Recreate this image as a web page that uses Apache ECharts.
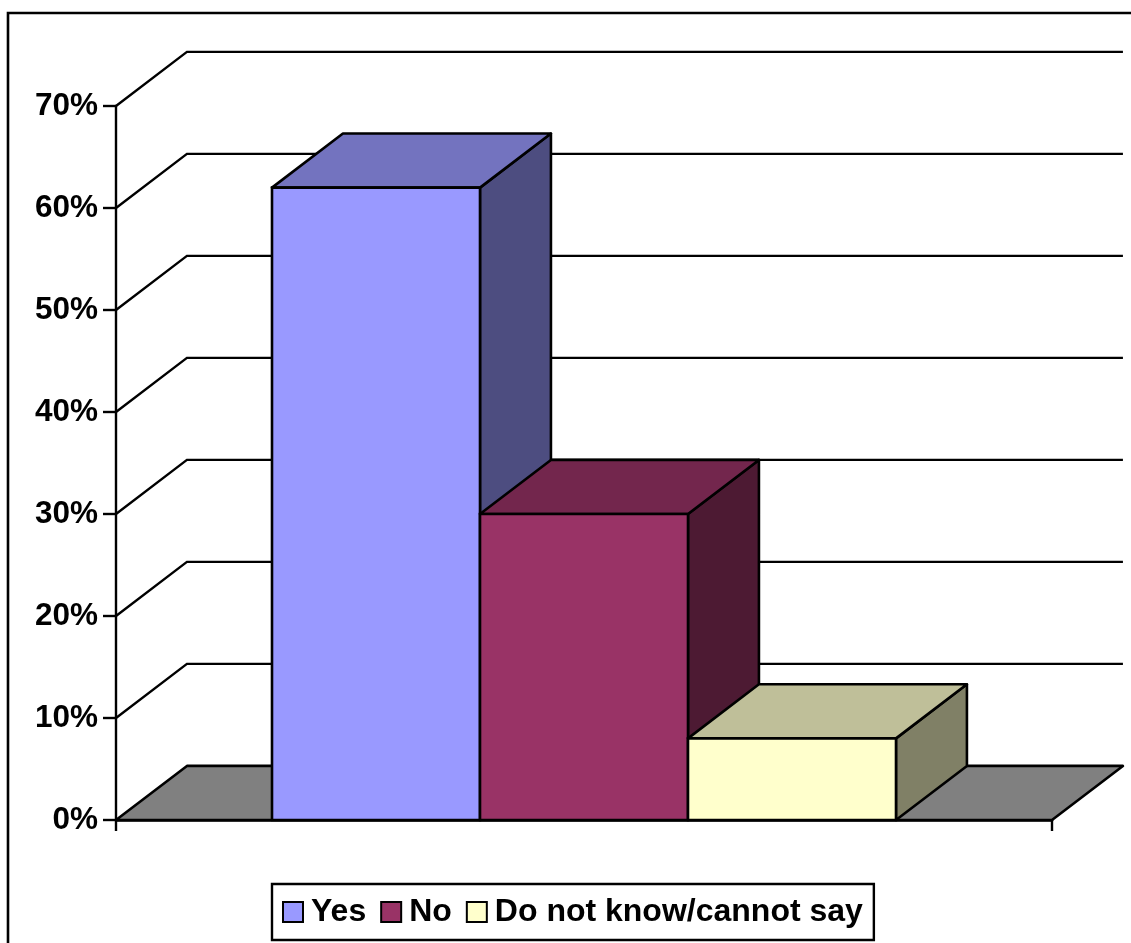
<!DOCTYPE html>
<html>
<head>
<meta charset="utf-8">
<script src="https://cdn.jsdelivr.net/npm/echarts@6/dist/echarts.min.js"></script>
<style>
  html, body { margin: 0; padding: 0; background: #fff; }
  #chart { width: 1131px; height: 943px; }
</style>
</head>
<body>
<div id="chart"></div>
<script>
// Answer shares (fraction of respondents)
const seriesNames = ['Yes', 'No', 'Do not know/cannot say'];
const seriesValues = [0.62, 0.30, 0.08];
const categories = [''];
// Value-axis ticks (also the back-wall gridlines)
const yTicks = [0, 0.1, 0.2, 0.3, 0.4, 0.5, 0.6, 0.7];

// Face colours for each box: front, top, side
const faceColors = [
  { front: '#9999FF', top: '#7373BF', side: '#4D4D80' },
  { front: '#993366', top: '#73264D', side: '#4D1A33' },
  { front: '#FFFFCC', top: '#BFBF99', side: '#808066' }
];

const FONT = '"Liberation Sans", Arial, sans-serif';
const GAP_RATIO = 1.5;      // gap width between clusters, in bar widths
const DEPTH_X = 0.341;      // depth offset per bar width
const DEPTH_Y = -0.26;
const EDGE = { stroke: '#000', lineWidth: 2.6 };

function barWidth(api) {
  const band = api.size([1, 0])[0];
  return band / (seriesNames.length + GAP_RATIO);
}

// Back wall, side wall lines and floor
function renderFrame(params, api) {
  const cs = params.coordSys;
  const w = barWidth(api);
  const dx = w * DEPTH_X, dy = w * DEPTH_Y;
  const L = cs.x, R = cs.x + cs.width;
  const y = api.coord([0, api.value(1)])[1];
  if (api.value(1) === 0) {
    return {
      type: 'polygon',
      shape: { points: [[L, y], [R, y], [R + dx, y + dy], [L + dx, y + dy]] },
      style: Object.assign({ fill: '#808080', lineJoin: 'round' }, EDGE)
    };
  }
  return {
    type: 'polyline',
    shape: { points: [[L, y], [L + dx, y + dy], [R + dx, y + dy]] },
    style: { fill: null, stroke: '#000', lineWidth: 2.4 }
  };
}

// One 3D box per series
function makeBoxRenderer(i) {
  const c = faceColors[i];
  return function (params, api) {
    const w = barWidth(api);
    const dx = w * DEPTH_X, dy = w * DEPTH_Y;
    const base = api.coord([api.value(0), 0]);
    const top = api.coord([api.value(0), api.value(1)]);
    const x0 = base[0] - (seriesNames.length / 2) * w + i * w;
    const x1 = x0 + w;
    const yb = base[1], yt = top[1];
    return {
      type: 'group',
      children: [
        {
          type: 'polygon',
          shape: { points: [[x1, yt], [x1 + dx, yt + dy], [x1 + dx, yb + dy], [x1, yb]] },
          style: Object.assign({ fill: c.side, lineJoin: 'round' }, EDGE)
        },
        {
          type: 'polygon',
          shape: { points: [[x0, yt], [x1, yt], [x1 + dx, yt + dy], [x0 + dx, yt + dy]] },
          style: Object.assign({ fill: c.top, lineJoin: 'round' }, EDGE)
        },
        {
          type: 'rect',
          shape: { x: x0, y: yt, width: w, height: yb - yt },
          style: Object.assign({ fill: c.front }, EDGE)
        }
      ]
    };
  };
}

const boxSeries = seriesNames.map((name, i) => ({
  name: name,
  type: 'custom',
  z: 5 + i,
  itemStyle: { color: faceColors[i].front, borderColor: '#000', borderWidth: 2 },
  encode: { x: 0, y: 1 },
  data: [[0, seriesValues[i]]],
  renderItem: makeBoxRenderer(i)
}));

const chart = echarts.init(document.getElementById('chart'), null, { renderer: 'canvas' });
chart.setOption({
  animation: false,
  backgroundColor: '#fff',
  graphic: [{
    type: 'rect',
    z: 0,
    shape: { x: 8, y: 13, width: 1200, height: 1000 },
    style: { fill: 'none', stroke: '#000', lineWidth: 2.6 }
  }],
  grid: { left: 116, right: 79, top: 106, bottom: 123 },
  xAxis: {
    type: 'category',
    data: categories,
    boundaryGap: true,
    axisLine: { show: true, lineStyle: { color: '#000', width: 2.6 } },
    axisTick: { show: true, length: 11, lineStyle: { color: '#000', width: 2.4 } },
    axisLabel: { show: false },
    splitLine: { show: false },
    z: 10
  },
  yAxis: {
    type: 'value',
    min: 0,
    max: 0.7,
    interval: 0.1,
    axisLine: { show: true, lineStyle: { color: '#000', width: 2.4 } },
    axisTick: { show: true, length: 13, lineStyle: { color: '#000', width: 2.4 } },
    axisLabel: {
      margin: 18,
      color: '#000',
      fontFamily: FONT,
      fontWeight: 'bold',
      fontSize: 31.5,
      formatter: v => Math.round(v * 100) + '%'
    },
    splitLine: { show: false }
  },
  legend: {
    data: seriesNames,
    left: 272,
    top: 884,
    orient: 'horizontal',
    icon: 'rect',
    itemWidth: 20,
    itemHeight: 20,
    itemGap: 14,
    padding: [12, 11, 12, 10],
    borderColor: '#000',
    borderWidth: 2.4,
    itemStyle: { borderColor: '#000', borderWidth: 2 },
    textStyle: {
      color: '#000',
      fontFamily: FONT,
      fontWeight: 'bold',
      fontSize: 32,
      padding: [0, 0, 0, 3]
    },
    selectedMode: false
  },
  series: [{
    name: 'frame',
    type: 'custom',
    z: 1,
    silent: true,
    encode: { x: 0, y: 1 },
    data: yTicks.map(v => [0, v]),
    renderItem: renderFrame
  }].concat(boxSeries)
});
</script>
</body>
</html>
